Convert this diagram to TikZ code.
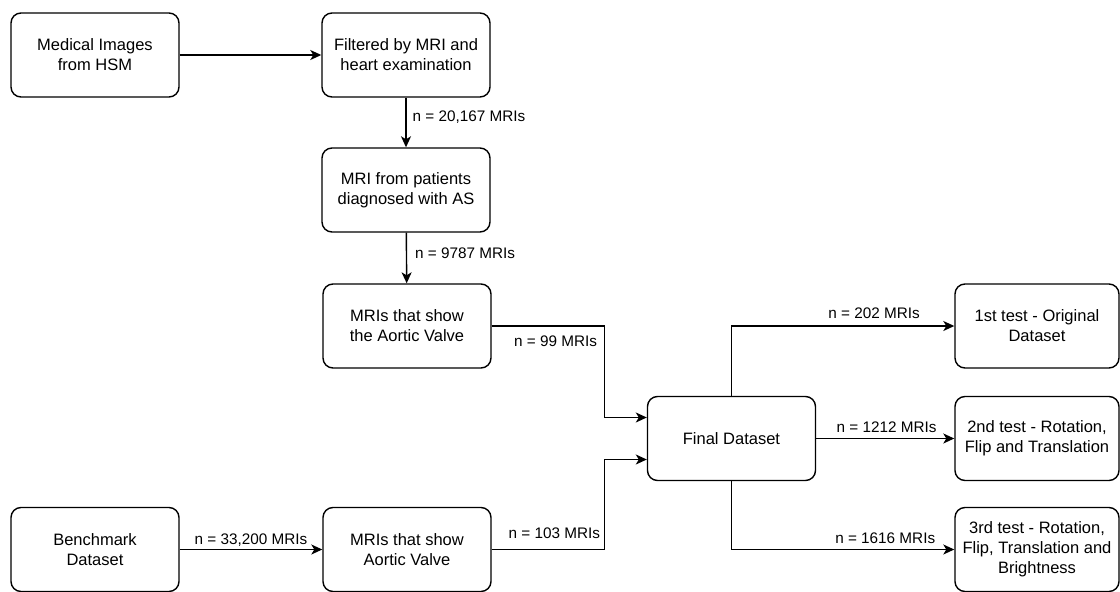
\documentclass[tikz,border=0pt]{standalone}
\usepackage{fontspec}
\setmainfont{Liberation Sans}
\usetikzlibrary{arrows.meta}

\begin{document}
\begin{tikzpicture}[x=1pt,y=-1pt,
  box/.style={draw, line width=1.4pt, rounded corners=10pt, minimum width=168pt,
    minimum height=84pt, align=center, inner sep=2pt,
    font=\fontsize{16.5}{20}\selectfont},
  testbox/.style={box, minimum width=164pt},
  lbl/.style={inner sep=0pt, text depth=0pt, font=\fontsize{15.3}{18}\selectfont},
  arr/.style={line width=1.4pt, -{Stealth[length=11pt,width=10pt,inset=3pt]}}]

\useasboundingbox (0,0) rectangle (1120,592);

% sources
\node[box] (med) at (95,55) {Medical Images\\from HSM};
\node[box] (filt) at (406,55) {Filtered by MRI and\\heart examination};
\node[box] (pat) at (406,190) {MRI from patients\\diagnosed with AS};
\node[box] (aort) at (407,326) {MRIs that show\\the Aortic Valve};
\node[box] (bench) at (95,549.5) {Benchmark\\Dataset};
\node[box] (aortb) at (407,549.5) {MRIs that show\\Aortic Valve};
% dataset and tests
\node[box] (final) at (731.5,438.5) {Final Dataset};
\node[testbox] (t1) at (1037,326) {1st test - Original\\Dataset};
\node[testbox] (t2) at (1037,438.5) {2nd test - Rotation,\\Flip and Translation};
\node[testbox] (t3) at (1037,549.5) {3rd test - Rotation,\\Flip, Translation and\\Brightness};

% filtering
\draw[arr] (med) -- (filt);
\draw[arr] (filt) -- (pat) node[lbl, pos=0.38, anchor=west, xshift=6pt] {n = 20,167 MRIs};
\draw[arr] (pat) -- (aort) node[lbl, pos=0.4, anchor=west, xshift=8pt] {n = 9787 MRIs};
\draw[arr] (bench) -- (aortb) node[lbl, midway, above=4pt] {n = 33,200 MRIs};

% merge
\draw[arr] (aort.east) -- ++(113,0)
  node[lbl, anchor=north east, xshift=-7pt, yshift=-9.5pt] {n = 99 MRIs}
  |- ([yshift=21pt]final.west);
\draw[arr] (aortb.east) -- ++(113,0)
  node[lbl, anchor=south east, xshift=-4pt, yshift=10pt] {n = 103 MRIs}
  |- ([yshift=-21pt]final.west);

% tests
\draw[arr] (final.north) |- (t1.west) node[lbl, pos=0.82, above=7pt] {n = 202 MRIs};
\draw[arr] (final) -- (t2) node[lbl, pos=0.51, above=5pt] {n = 1212 MRIs};
\draw[arr] (final.south) |- (t3.west) node[lbl, pos=0.845, above=5pt] {n = 1616 MRIs};

\end{tikzpicture}
\end{document}
